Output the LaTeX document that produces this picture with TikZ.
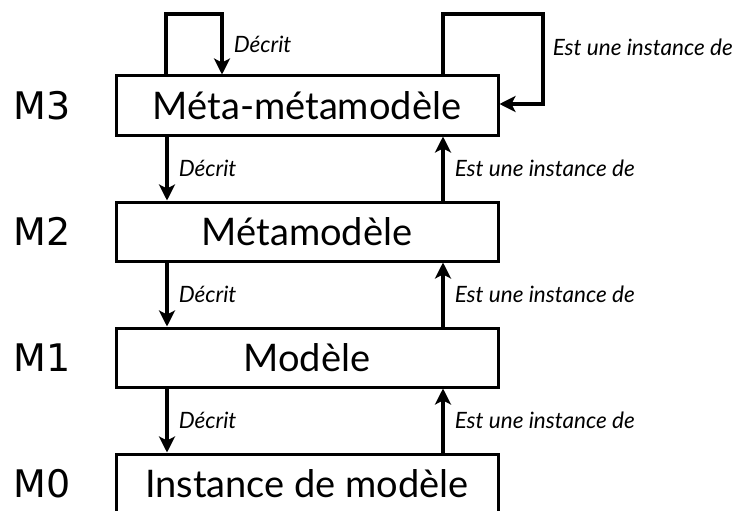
\documentclass[tikz,border=0pt]{standalone}
\usepackage{fontspec}
\setmainfont{Lato}
\newfontfamily\lvlfont{DejaVu Sans}
\usepackage{tikz}
\usetikzlibrary{arrows.meta}

\begin{document}
\begin{tikzpicture}[
		x=1pt,
		y=-1pt,
		box/.style={draw, line width=3pt, minimum width=382pt, minimum height=59pt, inner sep=0pt, font=\fontsize{38}{40}\selectfont},
		lvl/.style={font=\lvlfont\fontsize{38}{40}\selectfont},
		lbl/.style={right, inner sep=0pt, xshift=10pt, font=\fontsize{22.5}{24}\selectfont\itshape},
		arr/.style={line width=3.5pt, -{Stealth[length=16pt, width=16pt, inset=4pt]}}
	]
		\useasboundingbox (0,0) rectangle (737,511);
		\node[box] (m3) at (307,105.5) {Méta-métamodèle};
		\node[box] (m2) at (307,231.5) {Métamodèle};
		\node[box] (m1) at (307,357.5) {Modèle};
		\node[box] (m0) at (307,483.5) {Instance de modèle};
		\node[lvl] (l3) at (42,105.5) {M3};
		\node[lvl] (l2) at (42,231.5) {M2};
		\node[lvl] (l1) at (42,357.5) {M1};
		\node[lvl] (l0) at (42,483.5) {M0};
		\coordinate (dx) at (167,0);
		\coordinate (ux) at (443,0);
		% Boucles sur M3
		\coordinate (tl) at (166,14);
		\coordinate (tr) at (222,14);
		\coordinate (ra) at (443,14);
		\coordinate (rb) at (543,14);
		\coordinate (rc) at (543,104);
		\draw[arr] (m3.north -| tl) -- (tl) -- (tr) -- node[lbl]{Décrit} (m3.north -| tr);
		\draw[arr] (m3.north -| ra) -- (ra) -- (rb) -- node[lbl, xshift=-2pt, pos=.37]{Est une instance de} (rc) -- (m3.east |- rc);
		% Entre les niveaux
		\foreach \a/\b in {m3/m2, m2/m1, m1/m0} {
			\draw[arr] (\a.south -| dx) -- node[lbl]{Décrit} (\b.north -| dx);
			\draw[arr] (\b.north -| ux) -- node[lbl]{Est une instance de} (\a.south -| ux);
		}
	\end{tikzpicture}
\end{document}
